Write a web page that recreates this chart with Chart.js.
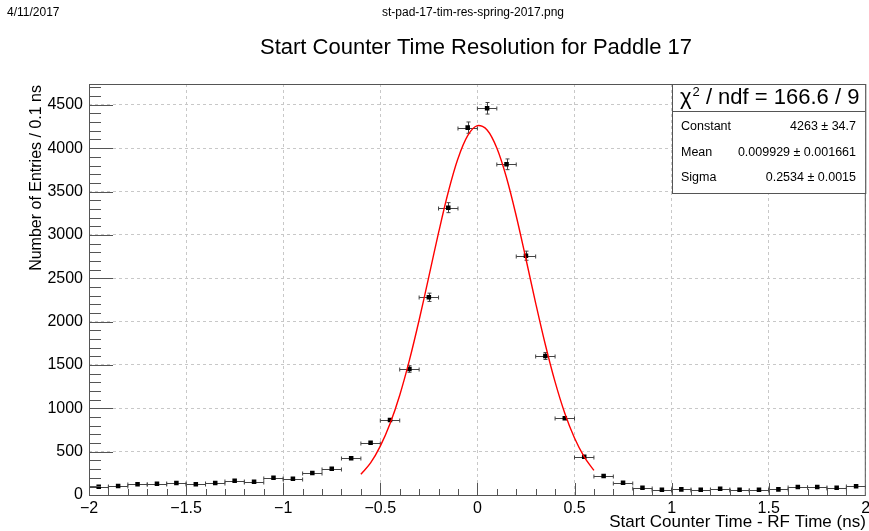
<!DOCTYPE html>
<html>
<head>
<meta charset="utf-8">
<script src="https://cdn.jsdelivr.net/npm/chart.js@4.4.0/dist/chart.umd.min.js"></script>
<style>
  html, body { margin: 0; padding: 0; background: #fff; }
  canvas { display: block; }
</style>
</head>
<body>
<canvas id="resChart" width="869" height="531"></canvas>
<script>
// Histogram data (bin centres in ns, entries per 0.1 ns bin, statistical errors)
const binWidth = 0.1;
const binCenters = [-1.95, -1.85, -1.75, -1.65, -1.55, -1.45, -1.35, -1.25, -1.15, -1.05,
                    -0.95, -0.85, -0.75, -0.65, -0.55, -0.45, -0.35, -0.25, -0.15, -0.05,
                     0.05,  0.15,  0.25,  0.35,  0.45,  0.55,  0.65,  0.75,  0.85,  0.95,
                     1.05,  1.15,  1.25,  1.35,  1.45,  1.55,  1.65,  1.75,  1.85,  1.95];
const entries = [95, 104, 123, 131, 138, 123, 138, 165, 154, 200,
                 188, 254, 304, 423, 603, 865, 1453, 2280, 3314, 4237,
                 4460, 3814, 2760, 1603, 885, 442, 219, 142, 84, 61,
                 65, 61, 73, 61, 61, 65, 92, 92, 84, 100];
const entryErrors = [9.7, 10.2, 11.1, 11.4, 11.7, 11.1, 11.7, 12.8, 12.4, 14.1,
                     13.7, 15.9, 17.4, 20.6, 24.6, 29.4, 38.1, 47.7, 57.6, 65.1,
                     66.8, 61.8, 52.5, 40.0, 29.7, 21.0, 14.8, 11.9, 9.2, 7.8,
                     8.1, 7.8, 8.5, 7.8, 7.8, 8.1, 9.6, 9.6, 9.2, 10.0];

// Gaussian fit curve
const fitX = [-0.6, -0.55, -0.5, -0.45, -0.4, -0.35, -0.3, -0.25, -0.2, -0.15, -0.1, -0.05, 0,
              0.05, 0.1, 0.15, 0.2, 0.25, 0.3, 0.35, 0.4, 0.45, 0.5, 0.55, 0.6];
const fitY = [240, 370, 563, 821, 1151, 1555, 2018, 2519, 3025, 3494, 3880, 4145, 4260,
              4210, 4002, 3659, 3218, 2722, 2214, 1733, 1304, 943, 657, 440, 283];

// Axis ticks and ranges
const xTicks = [-2, -1.5, -1, -0.5, 0, 0.5, 1, 1.5, 2];
const yTicks = [0, 500, 1000, 1500, 2000, 2500, 3000, 3500, 4000, 4500];
const xRange = [-2, 2];
const yRange = [0, 4740];

// Fit statistics box
const chi2Text = ' / ndf = 166.6 / 9';
const fitParams = [
    ['Constant', '4263 \u00b1 34.7'],
    ['Mean', '0.009929 \u00b1 0.001661'],
    ['Sigma', '0.2534 \u00b1 0.0015']
];

const FONT = '"Liberation Sans", Arial, Helvetica, sans-serif';

function minus(v) {
    return String(v).replace('-', '\u2212');
}

// White page background
const background = {
    id: 'background',
    beforeDraw(chart) {
        const ctx = chart.ctx;
        ctx.save();
        ctx.fillStyle = '#fff';
        ctx.fillRect(0, 0, chart.width, chart.height);
        ctx.restore();
    }
};

// Error bars for the histogram points
const errorBars = {
    id: 'errorBars',
    beforeDatasetsDraw(chart) {
        const { ctx, chartArea: a, scales: { x, y } } = chart;
        ctx.save();
        ctx.beginPath();
        ctx.rect(a.left, a.top, a.right - a.left, a.bottom - a.top);
        ctx.clip();
        ctx.strokeStyle = '#444';
        ctx.lineWidth = 1;
        binCenters.forEach((c, i) => {
            const px = Math.round(x.getPixelForValue(c)) + 0.5;
            const py = Math.round(y.getPixelForValue(entries[i])) + 0.5;
            const x0 = x.getPixelForValue(c - binWidth / 2);
            const x1 = x.getPixelForValue(c + binWidth / 2);
            const y0 = y.getPixelForValue(entries[i] - entryErrors[i]);
            const y1 = y.getPixelForValue(entries[i] + entryErrors[i]);
            ctx.beginPath();
            ctx.moveTo(x0, py); ctx.lineTo(x1, py);
            ctx.moveTo(x0, py - 2); ctx.lineTo(x0, py + 2);
            ctx.moveTo(x1, py - 2); ctx.lineTo(x1, py + 2);
            if (y0 - y1 > 6) {
                ctx.moveTo(px, y0); ctx.lineTo(px, y1);
                ctx.moveTo(px - 2, y0); ctx.lineTo(px + 2, y0);
                ctx.moveTo(px - 2, y1); ctx.lineTo(px + 2, y1);
            }
            ctx.stroke();
        });
        ctx.restore();
    }
};

// Frame, inner ticks, titles and the stats box
const decorations = {
    id: 'decorations',
    afterDraw(chart) {
        const { ctx, chartArea: a, scales: { x, y } } = chart;
        ctx.save();

        // inner tick marks
        ctx.strokeStyle = '#555';
        ctx.lineWidth = 1;
        ctx.beginPath();
        for (let i = 0; i < xTicks.length - 1; i++) {
            const step = (xTicks[i + 1] - xTicks[i]) / 5;
            for (let k = 0; k < 5; k++) {
                const px = Math.round(x.getPixelForValue(xTicks[i] + k * step)) + 0.5;
                const len = k === 0 ? 12 : 6;
                ctx.moveTo(px, a.bottom); ctx.lineTo(px, a.bottom - len);
            }
        }
        const yStep = (yTicks[1] - yTicks[0]) / 5;
        for (let v = yRange[0], k = 0; v <= yRange[1]; v += yStep, k++) {
            const py = Math.round(y.getPixelForValue(v)) + 0.5;
            const len = k % 5 === 0 ? 24 : 12;
            ctx.moveTo(a.left, py); ctx.lineTo(a.left + len, py);
        }
        ctx.stroke();

        // frame
        ctx.strokeStyle = '#555';
        ctx.strokeRect(a.left + 0.5, a.top + 0.5, a.right - a.left - 1, a.bottom - a.top);

        // stats box
        const bx = 672, by = a.top + 0.5, bw = a.right - 0.5 - bx, bh = 193 - a.top;
        ctx.fillStyle = '#fff';
        ctx.fillRect(bx, by, bw, bh);
        ctx.strokeStyle = '#555';
        ctx.strokeRect(bx + 0.5, by, bw, bh);
        ctx.beginPath();
        ctx.moveTo(bx, 111.5); ctx.lineTo(bx + bw, 111.5);
        ctx.stroke();

        ctx.fillStyle = '#000';
        ctx.textBaseline = 'middle';
        ctx.textAlign = 'left';
        ctx.font = '22px ' + FONT;
        ctx.fillText('\u03c7', 680, 98);
        let cx = 680 + ctx.measureText('\u03c7').width + 1;
        ctx.font = '13px ' + FONT;
        ctx.fillText('2', cx, 92);
        cx += ctx.measureText('2').width;
        ctx.font = '22px ' + FONT;
        ctx.fillText(chi2Text, cx, 98);

        ctx.font = '12.5px ' + FONT;
        const rowY = [127, 153, 178];
        fitParams.forEach((row, i) => {
            ctx.textAlign = 'left';
            ctx.fillText(row[0], 681, rowY[i]);
            ctx.textAlign = 'right';
            ctx.fillText(row[1], 856, rowY[i]);
        });

        // header line
        ctx.font = '12px ' + FONT;
        ctx.textAlign = 'left';
        ctx.fillText('4/11/2017', 7, 13);
        ctx.textAlign = 'center';
        ctx.fillText('st-pad-17-tim-res-spring-2017.png', 473, 13);

        // main title
        ctx.font = '22px ' + FONT;
        ctx.fillText('Start Counter Time Resolution for Paddle 17', 476, 48);

        // axis titles
        ctx.font = '17px ' + FONT;
        ctx.textAlign = 'right';
        ctx.fillText('Start Counter Time - RF Time (ns)', a.right, 522);
        ctx.font = '16px ' + FONT;
        ctx.translate(37, a.top + 1);
        ctx.rotate(-Math.PI / 2);
        ctx.fillText('Number of Entries / 0.1 ns', 0, 0);

        ctx.restore();
    }
};

const chart = new Chart(document.getElementById('resChart'), {
    type: 'scatter',
    data: {
        datasets: [
            {
                label: 'entries',
                data: binCenters.map((c, i) => ({ x: c, y: entries[i] })),
                pointStyle: 'rect',
                pointRadius: 3.2,
                pointHoverRadius: 3.2,
                backgroundColor: '#000',
                borderColor: '#000',
                borderWidth: 0,
                showLine: false,
                order: 1
            },
            {
                label: 'fit',
                type: 'line',
                data: fitX.map((v, i) => ({ x: v, y: fitY[i] })),
                borderColor: '#ff0000',
                borderWidth: 1.4,
                pointRadius: 0,
                tension: 0.35,
                fill: false,
                order: 0
            }
        ]
    },
    options: {
        responsive: false,
        animation: false,
        layout: { padding: { top: 84, right: 3, left: 0, bottom: 0 } },
        plugins: {
            legend: { display: false },
            title: { display: false },
            tooltip: { enabled: false }
        },
        scales: {
            x: {
                type: 'linear',
                min: xRange[0],
                max: xRange[1],
                afterBuildTicks: (scale) => { scale.ticks = xTicks.map(v => ({ value: v })); },
                afterFit: (scale) => {
                    scale.height = 36;
                    scale.paddingLeft = 0;
                    scale.paddingRight = 0;
                },
                grid: { color: '#c8c8c8', lineWidth: 1, drawTicks: false },
                border: { display: false, dash: [3, 3] },
                ticks: {
                    padding: 4,
                    autoSkip: false,
                    maxRotation: 0,
                    color: '#000',
                    font: { family: FONT, size: 16 },
                    callback: (v) => minus(v)
                }
            },
            y: {
                type: 'linear',
                min: yRange[0],
                max: yRange[1],
                afterBuildTicks: (scale) => { scale.ticks = yTicks.map(v => ({ value: v })); },
                afterFit: (scale) => {
                    scale.width = 89;
                    scale.paddingTop = 0;
                    scale.paddingBottom = 0;
                },
                grid: { color: '#c8c8c8', lineWidth: 1, drawTicks: false },
                border: { display: false, dash: [3, 3] },
                ticks: {
                    padding: 6,
                    autoSkip: false,
                    color: '#000',
                    font: { family: FONT, size: 16 },
                    callback: (v) => String(v)
                }
            }
        }
    },
    plugins: [background, errorBars, decorations]
});
</script>
</body>
</html>
